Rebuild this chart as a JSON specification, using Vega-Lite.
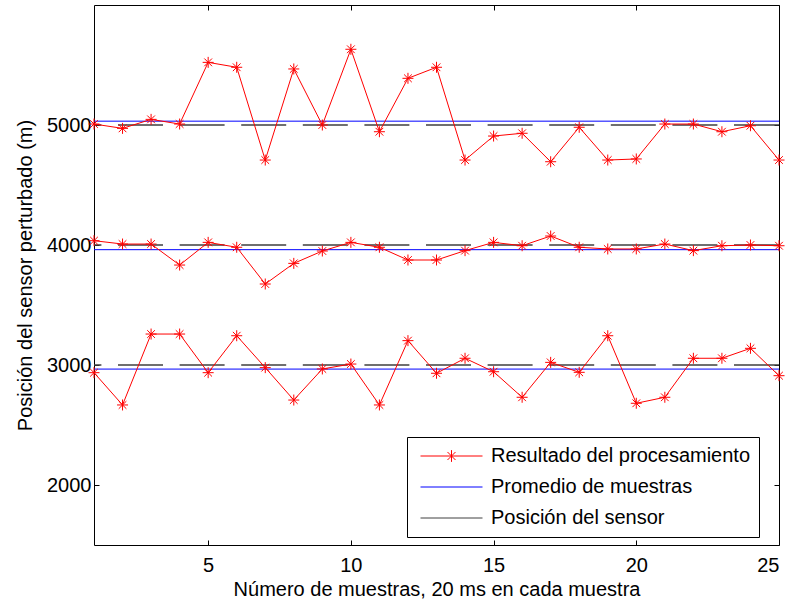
{
  "$schema": "https://vega.github.io/schema/vega-lite/v6.json",
  "width": 685,
  "height": 540,
  "autosize": "none",
  "padding": {"left": 94, "top": 5, "right": 12, "bottom": 57},
  "background": "white",
  "config": {
    "font": "Liberation Sans",
    "view": {"stroke": "black", "strokeWidth": 1},
    "axis": {
      "grid": false,
      "domain": false,
      "tickColor": "black",
      "tickSize": -5,
      "labelColor": "black",
      "titleColor": "black",
      "labelFontSize": 20,
      "titleFontSize": 20,
      "titleFontWeight": "normal",
      "labelFont": "Liberation Sans",
      "titleFont": "Liberation Sans"
    }
  },
  "datasets": {
    "res": [
      {"x": 1, "y": 5008, "g": "a", "tipo": "Resultado del procesamiento"},
      {"x": 2, "y": 4972, "g": "a", "tipo": "Resultado del procesamiento"},
      {"x": 3, "y": 5047, "g": "a", "tipo": "Resultado del procesamiento"},
      {"x": 4, "y": 5008, "g": "a", "tipo": "Resultado del procesamiento"},
      {"x": 5, "y": 5522, "g": "a", "tipo": "Resultado del procesamiento"},
      {"x": 6, "y": 5481, "g": "a", "tipo": "Resultado del procesamiento"},
      {"x": 7, "y": 4708, "g": "a", "tipo": "Resultado del procesamiento"},
      {"x": 8, "y": 5467, "g": "a", "tipo": "Resultado del procesamiento"},
      {"x": 9, "y": 5000, "g": "a", "tipo": "Resultado del procesamiento"},
      {"x": 10, "y": 5631, "g": "a", "tipo": "Resultado del procesamiento"},
      {"x": 11, "y": 4944, "g": "a", "tipo": "Resultado del procesamiento"},
      {"x": 12, "y": 5389, "g": "a", "tipo": "Resultado del procesamiento"},
      {"x": 13, "y": 5481, "g": "a", "tipo": "Resultado del procesamiento"},
      {"x": 14, "y": 4708, "g": "a", "tipo": "Resultado del procesamiento"},
      {"x": 15, "y": 4908, "g": "a", "tipo": "Resultado del procesamiento"},
      {"x": 16, "y": 4931, "g": "a", "tipo": "Resultado del procesamiento"},
      {"x": 17, "y": 4694, "g": "a", "tipo": "Resultado del procesamiento"},
      {"x": 18, "y": 4981, "g": "a", "tipo": "Resultado del procesamiento"},
      {"x": 19, "y": 4708, "g": "a", "tipo": "Resultado del procesamiento"},
      {"x": 20, "y": 4717, "g": "a", "tipo": "Resultado del procesamiento"},
      {"x": 21, "y": 5008, "g": "a", "tipo": "Resultado del procesamiento"},
      {"x": 22, "y": 5008, "g": "a", "tipo": "Resultado del procesamiento"},
      {"x": 23, "y": 4944, "g": "a", "tipo": "Resultado del procesamiento"},
      {"x": 24, "y": 4994, "g": "a", "tipo": "Resultado del procesamiento"},
      {"x": 25, "y": 4708, "g": "a", "tipo": "Resultado del procesamiento"},
      {"x": 1, "y": 4036, "g": "b", "tipo": "Resultado del procesamiento"},
      {"x": 2, "y": 4008, "g": "b", "tipo": "Resultado del procesamiento"},
      {"x": 3, "y": 4008, "g": "b", "tipo": "Resultado del procesamiento"},
      {"x": 4, "y": 3833, "g": "b", "tipo": "Resultado del procesamiento"},
      {"x": 5, "y": 4022, "g": "b", "tipo": "Resultado del procesamiento"},
      {"x": 6, "y": 3981, "g": "b", "tipo": "Resultado del procesamiento"},
      {"x": 7, "y": 3675, "g": "b", "tipo": "Resultado del procesamiento"},
      {"x": 8, "y": 3847, "g": "b", "tipo": "Resultado del procesamiento"},
      {"x": 9, "y": 3950, "g": "b", "tipo": "Resultado del procesamiento"},
      {"x": 10, "y": 4022, "g": "b", "tipo": "Resultado del procesamiento"},
      {"x": 11, "y": 3981, "g": "b", "tipo": "Resultado del procesamiento"},
      {"x": 12, "y": 3875, "g": "b", "tipo": "Resultado del procesamiento"},
      {"x": 13, "y": 3875, "g": "b", "tipo": "Resultado del procesamiento"},
      {"x": 14, "y": 3953, "g": "b", "tipo": "Resultado del procesamiento"},
      {"x": 15, "y": 4022, "g": "b", "tipo": "Resultado del procesamiento"},
      {"x": 16, "y": 3994, "g": "b", "tipo": "Resultado del procesamiento"},
      {"x": 17, "y": 4075, "g": "b", "tipo": "Resultado del procesamiento"},
      {"x": 18, "y": 3981, "g": "b", "tipo": "Resultado del procesamiento"},
      {"x": 19, "y": 3967, "g": "b", "tipo": "Resultado del procesamiento"},
      {"x": 20, "y": 3967, "g": "b", "tipo": "Resultado del procesamiento"},
      {"x": 21, "y": 4008, "g": "b", "tipo": "Resultado del procesamiento"},
      {"x": 22, "y": 3953, "g": "b", "tipo": "Resultado del procesamiento"},
      {"x": 23, "y": 3994, "g": "b", "tipo": "Resultado del procesamiento"},
      {"x": 24, "y": 4000, "g": "b", "tipo": "Resultado del procesamiento"},
      {"x": 25, "y": 3994, "g": "b", "tipo": "Resultado del procesamiento"},
      {"x": 1, "y": 2936, "g": "c", "tipo": "Resultado del procesamiento"},
      {"x": 2, "y": 2667, "g": "c", "tipo": "Resultado del procesamiento"},
      {"x": 3, "y": 3258, "g": "c", "tipo": "Resultado del procesamiento"},
      {"x": 4, "y": 3258, "g": "c", "tipo": "Resultado del procesamiento"},
      {"x": 5, "y": 2936, "g": "c", "tipo": "Resultado del procesamiento"},
      {"x": 6, "y": 3244, "g": "c", "tipo": "Resultado del procesamiento"},
      {"x": 7, "y": 2978, "g": "c", "tipo": "Resultado del procesamiento"},
      {"x": 8, "y": 2708, "g": "c", "tipo": "Resultado del procesamiento"},
      {"x": 9, "y": 2967, "g": "c", "tipo": "Resultado del procesamiento"},
      {"x": 10, "y": 3008, "g": "c", "tipo": "Resultado del procesamiento"},
      {"x": 11, "y": 2667, "g": "c", "tipo": "Resultado del procesamiento"},
      {"x": 12, "y": 3203, "g": "c", "tipo": "Resultado del procesamiento"},
      {"x": 13, "y": 2931, "g": "c", "tipo": "Resultado del procesamiento"},
      {"x": 14, "y": 3056, "g": "c", "tipo": "Resultado del procesamiento"},
      {"x": 15, "y": 2944, "g": "c", "tipo": "Resultado del procesamiento"},
      {"x": 16, "y": 2731, "g": "c", "tipo": "Resultado del procesamiento"},
      {"x": 17, "y": 3022, "g": "c", "tipo": "Resultado del procesamiento"},
      {"x": 18, "y": 2939, "g": "c", "tipo": "Resultado del procesamiento"},
      {"x": 19, "y": 3244, "g": "c", "tipo": "Resultado del procesamiento"},
      {"x": 20, "y": 2681, "g": "c", "tipo": "Resultado del procesamiento"},
      {"x": 21, "y": 2731, "g": "c", "tipo": "Resultado del procesamiento"},
      {"x": 22, "y": 3056, "g": "c", "tipo": "Resultado del procesamiento"},
      {"x": 23, "y": 3056, "g": "c", "tipo": "Resultado del procesamiento"},
      {"x": 24, "y": 3139, "g": "c", "tipo": "Resultado del procesamiento"},
      {"x": 25, "y": 2911, "g": "c", "tipo": "Resultado del procesamiento"}
    ],
    "medias": [
      {"y": 5032, "tipo": "Promedio de muestras"},
      {"y": 3961, "tipo": "Promedio de muestras"},
      {"y": 2966, "tipo": "Promedio de muestras"}
    ],
    "sensor": [
      {"y": 5000, "tipo": "Posición del sensor"},
      {"y": 4000, "tipo": "Posición del sensor"},
      {"y": 3000, "tipo": "Posición del sensor"}
    ]
  },
  "resolve": {"axis": {"x": "independent", "y": "independent"}},
  "layer": [
    {
      "data": {"name": "sensor"},
      "mark": {"type": "rule", "strokeDash": [45, 16.6], "strokeWidth": 1.3},
      "encoding": {
        "y": {"field": "y", "type": "quantitative", "axis": null, "scale": {"domain": [1500, 6000], "nice": false, "zero": false}},
        "color": {"field": "tipo", "type": "nominal"}
      }
    },
    {
      "data": {"name": "medias"},
      "mark": {"type": "rule", "strokeWidth": 1},
      "encoding": {
        "y": {"field": "y", "type": "quantitative", "axis": null, "scale": {"domain": [1500, 6000], "nice": false, "zero": false}},
        "color": {"field": "tipo", "type": "nominal"}
      }
    },
    {
      "data": {"name": "res"},
      "mark": {"type": "line", "strokeWidth": 1},
      "encoding": {
        "x": {
          "field": "x", "type": "quantitative",
          "scale": {"domain": [1, 25], "nice": false, "zero": false},
          "axis": {"orient": "bottom", "values": [5, 10, 15, 20, 25], "format": "d", "title": "Número de muestras, 20 ms en cada muestra", "labelPadding": 15, "titlePadding": 4}
        },
        "y": {
          "field": "y", "type": "quantitative",
          "scale": {"domain": [1500, 6000], "nice": false, "zero": false},
          "axis": {"orient": "left", "values": [2000, 3000, 4000, 5000], "format": "d", "title": "Posición del sensor perturbado (m)", "labelPadding": 8, "titlePadding": 11}
        },
        "detail": {"field": "g"},
        "color": {
          "field": "tipo", "type": "nominal",
          "scale": {
            "domain": ["Resultado del procesamiento", "Promedio de muestras", "Posición del sensor"],
            "range": ["#ff0000", "#0000ff", "#404040"]
          },
          "legend": {
            "title": null,
            "orient": "none",
            "legendX": 313,
            "legendY": 432,
            "strokeColor": "black",
            "fillColor": "white",
            "padding": 8,
            "symbolType": "stroke",
            "symbolSize": 3844,
            "symbolStrokeWidth": 1,
            "symbolOffset": 5,
            "labelOffset": 8,
            "labelFontSize": 20,
            "labelFont": "Liberation Sans",
            "labelColor": "black",
            "clipHeight": 22,
            "rowPadding": 9,
            "labelLimit": 400,
            "encode": {
              "symbols": {
                "update": {
                  "shape": {"signal": "datum.value === 'Resultado del procesamiento' ? 'M-1,0L1,0M0,-0.19L0,0.19M-0.13,-0.13L0.13,0.13M-0.13,0.13L0.13,-0.13' : 'M-1,0L1,0'"},
                  "fill": {"value": "transparent"},
                  "strokeWidth": {"value": 1}
                }
              }
            }
          }
        }
      }
    },
    {
      "data": {"name": "res"},
      "mark": {"type": "point", "shape": "M-1,0L1,0M0,-1L0,1M-0.7,-0.7L0.7,0.7M-0.7,0.7L0.7,-0.7", "filled": false, "color": "#ff0000", "size": 121, "strokeWidth": 1, "opacity": 1},
      "encoding": {
        "x": {
          "field": "x", "type": "quantitative",
          "scale": {"domain": [1, 25], "nice": false, "zero": false},
          "axis": {"orient": "top", "values": [5, 10, 15, 20, 25], "labels": false, "title": null}
        },
        "y": {
          "field": "y", "type": "quantitative",
          "scale": {"domain": [1500, 6000], "nice": false, "zero": false},
          "axis": {"orient": "right", "values": [2000, 3000, 4000, 5000], "labels": false, "title": null}
        }
      }
    }
  ]
}
